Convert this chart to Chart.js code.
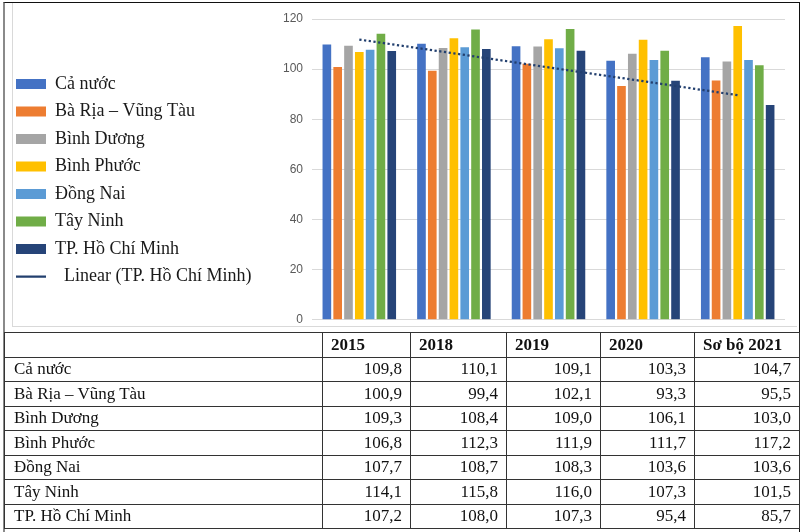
<!DOCTYPE html>
<html>
<head>
<meta charset="utf-8">
<script src="https://cdn.jsdelivr.net/npm/chart.js@4.4.1/dist/chart.umd.min.js"></script>
<style>
    body { margin: 0; background: #ffffff; }
    #wrap { position: relative; width: 800px; height: 532px; background: #ffffff; overflow: hidden; }
    #frame {
        position: absolute; left: 3px; top: 2px; width: 794px; height: 530px;
        border-top: 1px solid #111111; border-left: 2px solid #8a8a8a; border-right: 1px solid #111111;
    }
    #chartBorder {
        position: absolute; left: 12px; top: 3px; width: 784px; height: 323px;
        border-left: 1px solid #d9d9d9; border-bottom: 1px solid #d9d9d9;
    }
    #chart { position: absolute; left: 0; top: 0; }
    #table {
        position: absolute; left: 4px; top: 332px; width: 795px;
        border-collapse: collapse; table-layout: fixed;
        font-family: 'Liberation Serif', 'Times New Roman', serif; font-size: 17px; color: #111111;
    }
    #table td, #table th { border: 1px solid #333333; padding: 0; height: 23.5px; line-height: 20px; white-space: nowrap; }
    #table th { text-align: left; padding-left: 8px; font-weight: bold; }
    #table td.name { text-align: left; padding-left: 9px; }
    #table td.num { text-align: right; padding-right: 8px; }
</style>
</head>
<body>
<div id="wrap">
    <div id="frame"></div>
    <div id="chartBorder"></div>
    <canvas id="chart" width="800" height="336"></canvas>
    <table id="table"></table>
</div>
<script>
// categories (also the table header)
const years = ['2015', '2018', '2019', '2020', 'Sơ bộ 2021'];

// series values
const caNuoc = [109.8, 110.1, 109.1, 103.3, 104.7];
const baRiaVungTau = [100.9, 99.4, 102.1, 93.3, 95.5];
const binhDuong = [109.3, 108.4, 109.0, 106.1, 103.0];
const binhPhuoc = [106.8, 112.3, 111.9, 111.7, 117.2];
const dongNai = [107.7, 108.7, 108.3, 103.6, 103.6];
const tayNinh = [114.1, 115.8, 116.0, 107.3, 101.5];
const tpHoChiMinh = [107.2, 108.0, 107.3, 95.4, 85.7];
// dotted trend line
const trendHoChiMinh = [111.8, 106.3, 100.7, 95.2, 89.6];

const seriesNames = ['Cả nước', 'Bà Rịa – Vũng Tàu', 'Bình Dương', 'Bình Phước', 'Đồng Nai', 'Tây Ninh', 'TP. Hồ Chí Minh'];
const trendName = 'Linear (TP. Hồ Chí Minh)';

// y axis ticks
const yMin = 0;
const yMax = 120;
const yStep = 20;

const seriesValues = [caNuoc, baRiaVungTau, binhDuong, binhPhuoc, dongNai, tayNinh, tpHoChiMinh];
const seriesColors = ['#4472C4', '#ED7D31', '#A5A5A5', '#FFC000', '#5B9BD5', '#70AD47', '#264478'];

const PLOT_LEFT = 312;
const PAD_LEFT = 6.5;

let datasets = seriesValues.map((vals, i) => ({
    label: seriesNames[i],
    data: vals,
    backgroundColor: seriesColors[i],
    borderWidth: 0,
    categoryPercentage: 0.8,
    barPercentage: 0.8,
    order: 1,
}));

datasets.push({
    type: 'line',
    label: trendName,
    data: trendHoChiMinh,
    borderColor: '#223f6e',
    backgroundColor: 'transparent',
    borderWidth: 2.25,
    borderDash: [2.25, 2.5],
    pointRadius: 0,
    fill: false,
    tension: 0,
    order: 0, // on top of the bars
});

new Chart(document.getElementById('chart'), {
    type: 'bar',
    data: { labels: years, datasets: datasets },
    options: {
        responsive: false,
        animation: false,
        // bottom of the plot ends up at ~320 (tick label half height + tick padding)
        layout: { padding: { left: PAD_LEFT, top: 19, right: 15, bottom: 10.5 } },
        plugins: {
            tooltip: { enabled: false },
            legend: {
                position: 'left',
                maxWidth: 300,
                title: { display: true, text: '', padding: 2, font: { size: 10 } },
                labels: {
                    usePointStyle: true,
                    pointStyleWidth: 30,
                    boxHeight: 10,
                    padding: 9.5,
                    color: '#1a1a1a',
                    font: { family: "'Liberation Serif', 'Times New Roman', serif", size: 18 },
                    generateLabels(chart) {
                        const items = Chart.defaults.plugins.legend.labels.generateLabels(chart);
                        items.sort((a, b) => a.datasetIndex - b.datasetIndex);
                        items.forEach(it => {
                            if (chart.data.datasets[it.datasetIndex].type === 'line') {
                                it.pointStyle = 'line';
                                it.text = '\u00a0\u00a0' + it.text;
                            } else {
                                it.pointStyle = 'rect';
                                it.lineWidth = 0;
                            }
                        });
                        return items;
                    }
                }
            }
        },
        scales: {
            x: { display: false },
            y: {
                min: yMin,
                max: yMax,
                border: { display: false },
                grid: { color: '#d9d9d9', drawTicks: false },
                ticks: {
                    stepSize: yStep,
                    padding: 9,
                    color: '#595959',
                    font: { family: "'Liberation Sans', Arial, sans-serif", size: 12 },
                },
                // keep the plot area starting where the table columns start
                afterFit(scale) {
                    const lw = scale.chart.legend ? scale.chart.legend.width : 0;
                    scale.width = PLOT_LEFT - PAD_LEFT - lw;
                }
            }
        }
    }
});

// data table under the chart
const colWidths = [318, 88, 96, 94, 94, 105];
const table = document.getElementById('table');
let html = '<colgroup>' + colWidths.map(w => '<col style="width:' + w + 'px">').join('') + '</colgroup>';
html += '<tr><th></th>' + years.map(y => '<th>' + y + '</th>').join('') + '</tr>';
seriesValues.forEach((vals, i) => {
    html += '<tr><td class="name">' + seriesNames[i] + '</td>' +
        vals.map(v => '<td class="num">' + v.toFixed(1).replace('.', ',') + '</td>').join('') + '</tr>';
});
table.innerHTML = html;
</script>
</body>
</html>
